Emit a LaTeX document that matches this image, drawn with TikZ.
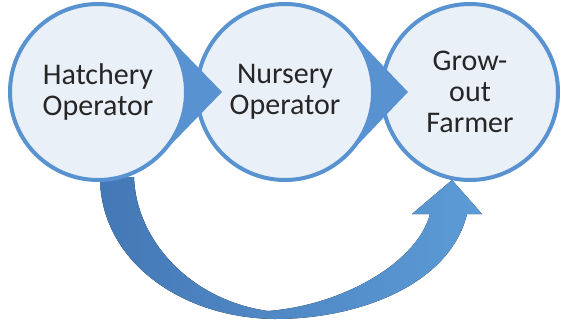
\documentclass[tikz,border=0pt]{standalone}
\usepackage{fontspec}
\setmainfont{Carlito}
\usetikzlibrary{calc}

\definecolor{ringblue}{RGB}{88,146,208}
\definecolor{discfill}{RGB}{234,240,248}
\definecolor{bandleft}{RGB}{68,120,182}
\definecolor{bandright}{RGB}{92,155,214}

\begin{document}
\begin{tikzpicture}[x=1pt,y=1pt,
    stage/.style={circle,draw=ringblue,line width=4pt,fill=discfill,
        minimum size=176pt,inner sep=0pt,align=center,
        font=\fontsize{30}{31}\selectfont,text=black!85},
    chevron/.style={fill=ringblue}]
    \useasboundingbox (0,0) rectangle (561,322);

    % Bent arrow under the stages (drawn first, circles cover its ends)
    \fill[left color=bandleft,right color=bandright]
        (100,145) .. controls +(0,-83) and +(-95,1) .. (275,3)
        .. controls +(85,0) and +(-17,-70) .. (467,108)
        -- (482,108) -- (452,142) -- (412,108) -- (430,108)
        .. controls +(-12,-47) and +(77,6) .. (268,11)
        .. controls +(-78,11) and +(2,-63) .. (134,145) -- cycle;

    % Stages
    \node[stage] (hatch) at (98,230) {Hatchery\\Operator};
    \node[stage] (nursery) at (285,230) {Nursery\\Operator};
    \node[stage] (farmer) at (470,230) {Grow-\\out\\Farmer};

    % Arrow heads between the stages
    \fill[chevron] ($(hatch)+(45:89)$) -- ($(hatch)+(124,0)$)
        -- ($(hatch)+(-45:89)$) arc[start angle=-45,end angle=45,radius=89];
    \fill[chevron] ($(nursery)+(45:89)$) -- ($(nursery)+(123,0)$)
        -- ($(nursery)+(-45:89)$) arc[start angle=-45,end angle=45,radius=89];
\end{tikzpicture}
\end{document}
